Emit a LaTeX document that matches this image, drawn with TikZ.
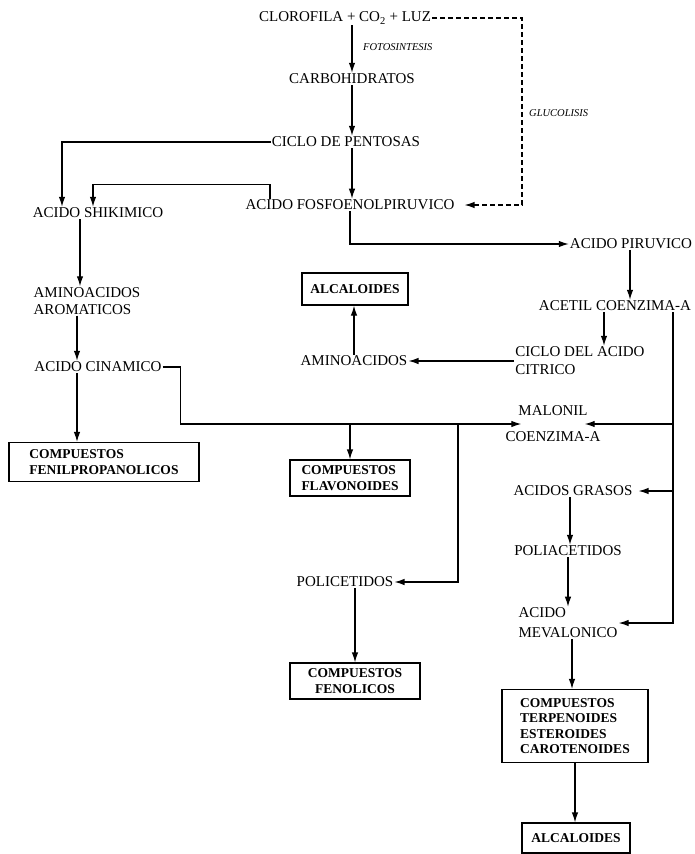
\documentclass[tikz,border=0pt]{standalone}
\usepackage{fontspec}
\setmainfont{Liberation Serif}
\usepackage{tikz}
\usetikzlibrary{arrows.meta}

\begin{document}
\begin{tikzpicture}[x=1pt,y=-1pt,
        txt/.style={inner sep=1pt,font=\fontsize{15}{17}\selectfont},
        pbox/.style={draw,line width=1.2pt,inner sep=2pt,align=left,font=\bfseries\fontsize{13.5}{15.5}\selectfont},
        ital/.style={inner sep=1pt,font=\itshape\fontsize{10.5}{12}\selectfont},
        arr/.style={-{Latex[length=10pt,width=6.5pt]},line width=1.2pt}]
        \useasboundingbox (0,0) rectangle (695,854);
        \node[txt] (cloro) at (345,18) {CLOROFILA + CO\textsubscript{2} + LUZ};
        \node[ital,anchor=west] (fotos) at (362,47) {FOTOSINTESIS};
        \node[txt] (carbo) at (352,79) {CARBOHIDRATOS};
        \node[txt] (pent) at (346,142) {CICLO DE PENTOSAS};
        \node[ital,anchor=west] (gluco) at (528,113) {GLUCOLISIS};
        \node[txt] (fosfo) at (350,205) {ACIDO FOSFOENOLPIRUVICO};
        \node[txt] (shik) at (98,213) {ACIDO SHIKIMICO};
        \node[txt] (piru) at (631,244) {ACIDO PIRUVICO};
        \node[txt] (acetil) at (615,306) {ACETIL COENZIMA-A};
        \node[pbox,minimum width=106pt,minimum height=32pt] (alcaA) at (355,289) {ALCALOIDES};
        \node[txt,align=left] (arom) at (87,301) {AMINOACIDOS\\AROMATICOS};
        \node[txt] (amino) at (354,361) {AMINOACIDOS};
        \node[txt,align=left,font=\fontsize{15}{18}\selectfont] (citr) at (580,361) {CICLO DEL ACIDO\\CITRICO};
        \node[txt] (cinam) at (98,367) {ACIDO CINAMICO};
        \node[txt,align=center,font=\fontsize{15}{26}\selectfont] (malon) at (553,424) {MALONIL\\COENZIMA-A};
        \node[pbox,minimum width=190pt,minimum height=39pt] (fenil) at (104,462) {COMPUESTOS\\FENILPROPANOLICOS};
        \node[pbox,minimum width=120pt,minimum height=36pt] (flavo) at (350,478) {COMPUESTOS\\FLAVONOIDES};
        \node[txt] (grasos) at (573,491) {ACIDOS GRASOS};
        \node[txt] (poliac) at (568,551) {POLIACETIDOS};
        \node[txt] (polic) at (345,582) {POLICETIDOS};
        \node[txt,align=left,font=\fontsize{15}{20}\selectfont] (meva) at (568,623) {ACIDO\\MEVALONICO};
        \node[pbox,align=center,minimum width=130pt,minimum height=36pt] (fenol) at (355,681) {COMPUESTOS\\FENOLICOS};
        \node[pbox,minimum width=146pt,minimum height=73pt] (terp) at (575,726) {COMPUESTOS\\TERPENOIDES\\ESTEROIDES\\CAROTENOIDES};
        \node[pbox,minimum width=108pt,minimum height=30pt] (alcaB) at (576,838) {ALCALOIDES};
        \coordinate (brA) at (458,424);
        \coordinate (rt) at ([xshift=58pt]acetil.south);

        \draw[arr] (carbo.north |- cloro.south) -- (carbo.north);
        \draw[arr] (carbo.south) -- (carbo.south |- pent.north);
        \draw[arr] (pent.south -| carbo.south) -- (fosfo.north -| carbo.south);
        \draw[arr] (pent.west) -| ([xshift=-36pt]shik.north);
        \draw[arr] ([xshift=-80pt]fosfo.north) -- ++(0,-14) -| ([xshift=-5pt]shik.north);
        \draw[arr,dash pattern=on 5pt off 3pt] (cloro.east) -| ([xshift=-6pt]gluco.west) |- ([xshift=9pt]fosfo.east);
        \draw[arr] (fosfo.south) |- (piru.west);
        \draw[arr] ([xshift=-1pt]piru.south) -- ([xshift=-1pt]piru.south |- acetil.north);
        \draw[arr] ([xshift=-11pt]acetil.south) -- ([xshift=-11pt]acetil.south |- citr.north);
        \draw[arr] (citr.west) -- (amino.east);
        \draw[arr] (amino.north) -- (amino.north |- alcaA.south);
        \draw[arr] ([xshift=-18pt]shik.south) -- ([xshift=-18pt]shik.south |- arom.north);
        \draw[arr] ([xshift=-21pt]cinam.north |- arom.south) -- ([xshift=-21pt]cinam.north);
        \draw[arr] ([xshift=-21pt]cinam.south) -- ([xshift=-21pt]cinam.south |- fenil.north);
        \draw[arr] (cinam.east) -- ++(18,0) |- ([xshift=17pt]malon.west);
        \draw[arr] (flavo.north |- malon.west) -- (flavo.north);
        \draw[arr] (brA) |- (polic.east);
        \draw[arr] (fenol.north |- polic.south) -- (fenol.north);
        \draw[arr] (rt) |- ([xshift=-17pt]malon.east);
        \draw[arr] (rt) |- ([xshift=5pt]grasos.east);
        \draw[arr] (rt) |- (meva.east);
        \draw[arr] ([xshift=-3pt]grasos.south) -- ([xshift=-3pt]grasos.south |- poliac.north);
        \draw[arr] (poliac.south) -- (poliac.south |- meva.north);
        \draw[arr] ([xshift=-3pt]terp.north |- meva.south) -- ([xshift=-3pt]terp.north);
        \draw[arr] (terp.south) -- (terp.south |- alcaB.north);
\end{tikzpicture}
\end{document}
